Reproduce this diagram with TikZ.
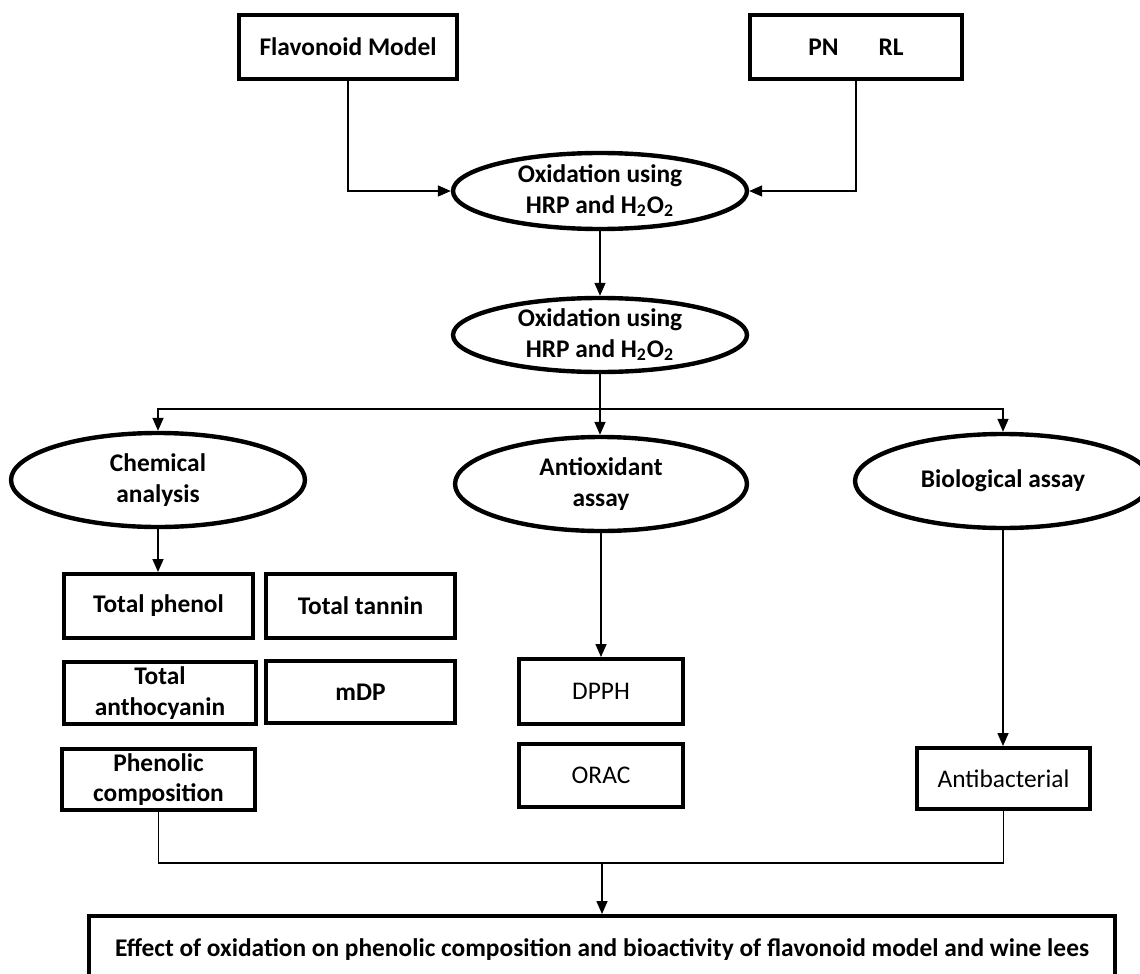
\documentclass[tikz,border=0pt]{standalone}
\usepackage{fontspec}
\setmainfont{Carlito}
\usetikzlibrary{shapes.geometric,arrows.meta}

\begin{document}
\begin{tikzpicture}[x=0.5pt,y=-0.5pt,
	box/.style={draw,line width=2pt,align=center,inner sep=0pt,font=\bfseries\fontsize{12.7}{15.2}\selectfont},
	lightbox/.style={box,font=\mdseries\fontsize{12.7}{15.2}\selectfont},
	oval/.style={draw,ellipse,line width=2.2pt,align=center,inner sep=0pt,font=\bfseries\fontsize{12.7}{15.2}\selectfont},
	link/.style={line width=0.8pt},
	conn/.style={link,-{Triangle[length=6.5pt,width=5.5pt]}}]
			\useasboundingbox (0,0) rectangle (1140,974);
			% sources
			\node[box,minimum width=109pt,minimum height=32pt] (flav) at (348,47) {Flavonoid Model};
			\node[box,minimum width=106pt,minimum height=32pt] (lees) at (856,47) {PN\hspace{20pt}RL};
			% oxidation steps
			\node[oval,minimum width=147pt,minimum height=38pt] (ox1) at (600,191) {Oxidation using\\HRP and H\textsubscript{2}O\textsubscript{2}};
			\node[oval,minimum width=147pt,minimum height=37pt] (ox2) at (600,335) {Oxidation using\\HRP and H\textsubscript{2}O\textsubscript{2}};
			\draw[conn] (flav.south) |- (ox1.west);
			\draw[conn] (lees.south) |- (ox1.east);
			\draw[conn] (ox1) -- (ox2);
			% three kinds of analysis
			\node[oval,minimum width=147pt,minimum height=47pt] (chem) at (158,480) {Chemical\\analysis};
			\node[oval,minimum width=146pt,minimum height=47pt] (anti) at (601,484) {Antioxidant\\assay};
			\node[oval,minimum width=148pt,minimum height=47pt] (bio) at (1003,481) {Biological assay};
			\coordinate (split) at (600,409);
			\draw[link] (ox2.south) -- (split);
			\draw[conn] (split) -| (chem.north);
			\draw[conn] (split) -- (split |- anti.north);
			\draw[conn] (split) -| (bio.north);
			% chemical analysis
			\node[box,minimum width=94.5pt,minimum height=32pt] (phenol) at (158.5,606) {Total phenol};
			\node[box,minimum width=94.5pt,minimum height=32pt] (tannin) at (360.5,606) {Total tannin};
			\node[box,minimum width=96pt,minimum height=31pt] (antho) at (160,693) {Total\\anthocyanin};
			\node[box,minimum width=94.5pt,minimum height=31pt] (mdp) at (360.5,692) {mDP};
			\node[box,minimum width=96.5pt,minimum height=30.5pt] (comp) at (158.5,779.5) {Phenolic\\composition};
			\draw[conn] (chem.south) -- (chem.south |- phenol.north);
			% antioxidant assay
			\node[lightbox,minimum width=82pt,minimum height=32.5pt] (dpph) at (601,691.5) {DPPH};
			\node[lightbox,minimum width=82pt,minimum height=31.5pt] (orac) at (601,775.5) {ORAC};
			\draw[conn] (anti.south) -- (anti.south |- dpph.north);
			% biological assay
			\node[lightbox,minimum width=86.5pt,minimum height=30.5pt] (antib) at (1003.5,778.5) {Antibacterial};
			\draw[conn] (bio.south) -- (bio.south |- antib.north);
			% outcome
			\node[box,minimum width=513pt,minimum height=34pt] (effect) at (602,950) {Effect of oxidation on phenolic composition and bioactivity of flavonoid model and wine lees};
			\coordinate (merge) at (602,863);
			\draw[link] (comp.south) |- (merge);
			\draw[link] (antib.south) |- (merge);
			\draw[conn] (merge) -- (effect.north);
		\end{tikzpicture}
\end{document}
